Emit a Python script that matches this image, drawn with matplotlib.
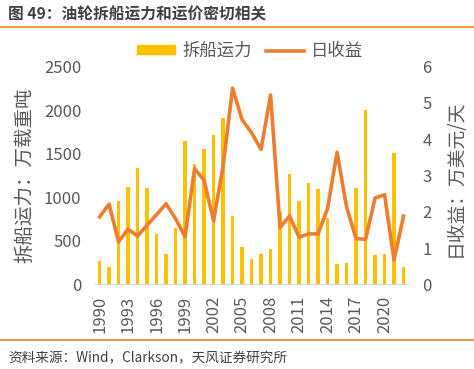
import matplotlib
matplotlib.use("Agg")
import matplotlib.pyplot as plt
from matplotlib.lines import Line2D

plt.rcParams['font.family'] = ['Noto Sans CJK SC', 'DejaVu Sans']

years = list(range(1990, 2023))
capacity = [263, 198, 962, 1122, 1340, 1103, 580, 350, 645, 1641, 1385,
            1557, 1710, 1915, 790, 431, 290, 343, 400, 831, 1271, 954,
            1168, 1091, 756, 232, 244, 1103, 1999, 335, 343, 1503, 198]
earnings = [1.86, 2.21, 1.17, 1.52, 1.33, 1.63, 1.92, 2.22, 1.81, 1.31, 3.19,
            2.87, 1.75, 3.25, 5.41, 4.54, 4.18, 3.72, 5.22, 1.57, 1.88, 1.30,
            1.39, 1.39, 2.09, 3.64, 2.13, 1.26, 1.24, 2.38, 2.47, 0.67, 1.88]
xticks = list(range(1990, 2021, 3))

BAR = '#FFC000'
LINE = '#ED7D31'
GRAY = '#595959'
RULE = '#E8892B'

fig = plt.figure(figsize=(4.74, 3.69), dpi=100)
ax = fig.add_axes([95.3/474, 1-284.3/369, 313/474, (284.3-66.7)/369])
ax.bar(years, capacity, width=0.36, color=BAR, zorder=2)
ax.set_xlim(1989.55, 2022.5)
ax.set_ylim(0, 2500)
ax.set_yticks([0, 500, 1000, 1500, 2000, 2500])
ax.set_xticks(xticks)
ax.set_xticklabels([str(y) for y in xticks], rotation=90)
for s in ['top', 'left', 'right']:
    ax.spines[s].set_visible(False)
ax.spines['bottom'].set_color('#D9D9D9')
ax.tick_params(axis='both', length=0, labelsize=12, colors=GRAY)
ax.tick_params(axis='y', pad=10)
ax.tick_params(axis='x', pad=8)

ax2 = ax.twinx()
ax2.plot(years, earnings, color=LINE, lw=2.6, zorder=3)
ax2.set_ylim(0, 6)
ax2.set_yticks(range(0, 7))
for s in ['top', 'left', 'right', 'bottom']:
    ax2.spines[s].set_visible(False)
ax2.tick_params(axis='y', length=0, labelsize=12, colors=GRAY, pad=10)

fig.text(25/474, 1-175/369, '拆船运力：万载重吨', rotation=90, ha='center', va='center',
         fontsize=14, color=GRAY)
fig.text(455/474, 1-178/369, '日收益：万美元/天', rotation=90, ha='center', va='center',
         fontsize=13.5, color=GRAY)

handles = [plt.Rectangle((0, 0), 1, 1, color=BAR), Line2D([0], [0], color=LINE, lw=2.6)]
fig.legend(handles, ['拆船运力', '日收益'], loc='center', bbox_to_anchor=(250/474, 1-51/369),
           ncol=2, frameon=False, fontsize=12.5, labelcolor=GRAY, handlelength=2.2,
           handleheight=0.45, columnspacing=0.8, handletextpad=0.4)

fig.text(8/474, 1-14/369, '图 49：油轮拆船运力和运价密切相关', ha='left', va='center',
         fontsize=11.3, fontweight='bold', color='#404040')
fig.add_artist(Line2D([0, 1], [1-27/369, 1-27/369], color=RULE, lw=1.2))
fig.add_artist(Line2D([0, 1], [1-340/369, 1-340/369], color=RULE, lw=1.2))
fig.text(8/474, 1-358/369, '资料来源：Wind，Clarkson，天风证券研究所', ha='left', va='center',
         fontsize=9.8, color='#404040')

fig.savefig('out.png', dpi=100)
